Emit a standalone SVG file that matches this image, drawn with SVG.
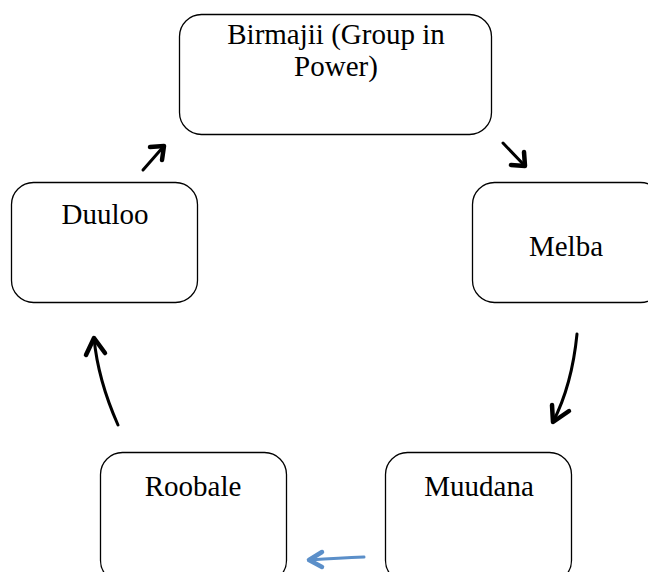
<svg xmlns="http://www.w3.org/2000/svg" width="648" height="572" viewBox="0 0 648 572">
  <style>
    .box { fill: #ffffff; stroke: #000000; stroke-width: 1.3; }
    .lbl { font-family: "Liberation Serif", "DejaVu Serif", serif; font-size: 29px; fill: #000000; text-anchor: middle; }
    .link { fill: none; stroke: #000000; stroke-width: 3; stroke-linecap: round; stroke-linejoin: round; }
    .head { fill: none; stroke: #000000; stroke-width: 4.5; stroke-linecap: round; stroke-linejoin: round; }
    .blue { stroke: #5b8fc9; }
  </style>
  <rect width="648" height="572" fill="#ffffff"/>

  <g id="birmajii">
    <rect class="box" x="179.5" y="14.5" width="312" height="120" rx="22"/>
    <text class="lbl" x="336" y="44">Birmajii (Group in</text>
    <text class="lbl" x="336" y="76">Power)</text>
  </g>
  <g id="melba">
    <rect class="box" x="472.5" y="182.5" width="190" height="120" rx="22"/>
    <text class="lbl" x="566" y="256">Melba</text>
  </g>
  <g id="muudana">
    <rect class="box" x="385.5" y="452.5" width="186" height="130" rx="22"/>
    <text class="lbl" x="479" y="496">Muudana</text>
  </g>
  <g id="roobale">
    <rect class="box" x="100.5" y="452.5" width="186" height="130" rx="22"/>
    <text class="lbl" x="193" y="496">Roobale</text>
  </g>
  <g id="duuloo">
    <rect class="box" x="11.5" y="182.5" width="186" height="120" rx="22"/>
    <text class="lbl" x="105" y="224">Duuloo</text>
  </g>

  <g id="connectors">
    <!-- Duuloo to Birmajii -->
    <path class="link" d="M143 170 L164 146"/>
    <path class="head" d="M150 147 L164 146 L162 160"/>
    <!-- Birmajii to Melba -->
    <path class="link" d="M503 143 L525 166"/>
    <path class="head" d="M524 152 L525 166 L511 165"/>
    <!-- Melba to Muudana -->
    <path class="link" d="M577 334 Q572 385 553 422"/>
    <path class="head" d="M552 405 L553 422 L569 411"/>
    <!-- Muudana to Roobale -->
    <path class="link blue" d="M364 557 Q340 558 309 560"/>
    <path class="head blue" d="M322 552 L309 560 L322 567"/>
    <!-- Roobale to Duuloo -->
    <path class="link" d="M118 425 Q98 380 94 338"/>
    <path class="head" d="M86 355 L94 338 L105 353"/>
  </g>
</svg>
